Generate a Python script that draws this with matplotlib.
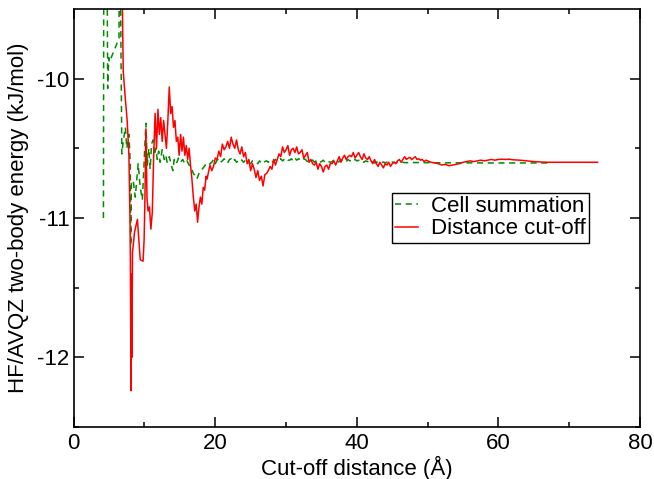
import matplotlib
matplotlib.use("Agg")
import matplotlib.pyplot as plt

plt.rcParams['font.family'] = ['Liberation Sans', 'DejaVu Sans']
plt.rcParams['axes.unicode_minus'] = False

# Cell summation (green, dashed)
green_x = [4.2, 4.25, 4.7, 4.8, 4.95, 5.05, 6.4, 6.45, 6.55, 6.8,
           7.0, 7.3, 7.5, 7.8, 8.0, 8.05, 8.15, 8.4, 8.7, 9.1,
           9.4, 9.7, 10.0, 10.2, 10.4, 10.6, 10.8, 11.0, 11.2, 11.4,
           11.6, 11.8, 12.0, 12.2, 12.5, 12.8, 13.0, 13.2, 13.5, 13.8,
           14.0, 14.2, 14.5, 14.8, 15.1, 15.4, 15.7, 16.0, 16.3, 16.6,
           16.9, 17.2, 17.4, 17.7, 18.0, 18.3, 18.6, 18.8,
           19.0, 19.25, 19.5, 19.75, 20.0, 20.25, 20.5, 20.75, 21.0, 21.25,
           21.5, 21.75, 22.0, 22.25, 22.5, 22.75, 23.0, 23.25, 23.5, 23.75,
           24.0, 24.25, 24.5, 24.75, 25.0, 25.25, 25.5, 25.75, 26.0, 26.25,
           26.5, 26.75, 27.0, 27.25, 27.5, 27.75, 28.0, 28.25, 28.5, 28.75,
           29.0, 29.25, 29.5, 29.75, 30.0, 30.25, 30.5, 30.75, 31.0, 31.25,
           31.5, 31.75, 32.0, 32.25, 32.5, 32.75, 33.0, 33.25, 33.5, 33.75,
           34.0, 34.25, 34.5, 34.75, 35.0, 35.25, 35.5, 35.75, 36.0, 36.25,
           36.5, 36.75, 37.0, 37.25, 37.5, 37.75, 38.0, 38.25, 38.5, 38.75,
           39.0, 39.25, 39.5, 39.75, 40.0, 40.25, 40.5, 40.75, 41.0, 41.25,
           41.5, 41.75, 42.0, 42.25, 42.5, 42.75, 43.0, 43.25, 43.5, 43.75,
           44.0, 44.25, 44.5, 44.75, 45.0, 45.25, 45.5, 45.75, 46.0, 46.25,
           47.0, 48.0, 50.0, 52.0, 55.0, 58.0, 62.0, 67.0]
green_y = [-11.0, -9.0, -9.0, -10.07, -9.85, -9.88, -9.71, -9.0, -9.0, -10.54,
           -10.45, -10.35, -10.50, -10.40, -10.62, -11.20, -10.75, -10.73, -10.85, -10.61,
           -10.78, -10.87, -10.55, -10.32, -10.62, -10.50, -10.65, -10.47, -10.44, -10.55,
           -10.50, -10.58, -10.52, -10.60, -10.51, -10.58, -10.55, -10.60, -10.56, -10.62,
           -10.66, -10.58, -10.61, -10.57, -10.60, -10.58, -10.61, -10.59, -10.62, -10.64,
           -10.68, -10.70, -10.72, -10.68, -10.66, -10.64, -10.62, -10.63,
           -10.62, -10.61, -10.60, -10.58, -10.61, -10.585, -10.575, -10.60, -10.59, -10.575,
           -10.60, -10.605, -10.58, -10.575, -10.595, -10.58, -10.60, -10.59, -10.575, -10.585,
           -10.60, -10.585, -10.59, -10.605, -10.61, -10.59, -10.595, -10.605, -10.61, -10.59,
           -10.605, -10.61, -10.595, -10.59, -10.60, -10.585, -10.60, -10.59, -10.58, -10.595,
           -10.585, -10.575, -10.59, -10.58, -10.57, -10.585, -10.585, -10.575, -10.59, -10.57,
           -10.585, -10.575, -10.58, -10.59, -10.575, -10.58, -10.595, -10.59, -10.58, -10.585,
           -10.60, -10.59, -10.585, -10.60, -10.595, -10.585, -10.60, -10.59, -10.595, -10.60,
           -10.595, -10.585, -10.59, -10.60, -10.595, -10.58, -10.59, -10.585, -10.595, -10.58,
           -10.59, -10.585, -10.595, -10.58, -10.59, -10.585, -10.595, -10.59, -10.60, -10.59,
           -10.595, -10.60, -10.59, -10.595, -10.605, -10.60, -10.595, -10.60, -10.605, -10.598,
           -10.605, -10.598, -10.601, -10.604, -10.599, -10.60, -10.604, -10.601, -10.603, -10.60,
           -10.603, -10.602, -10.603, -10.604, -10.604, -10.605, -10.605, -10.605]

# Distance cut-off (red, solid)
red_x = [6.75, 7.0, 7.3, 7.55, 7.8, 7.95, 8.0, 8.1, 8.15, 8.22,
         8.3, 8.6, 9.0, 9.4, 9.8, 9.95, 10.05, 10.2, 10.35, 10.5,
         10.7, 10.9, 11.1, 11.3, 11.5, 11.7, 11.9, 12.1, 12.3, 12.5,
         12.7, 12.9, 13.1, 13.3, 13.5, 13.7, 13.9, 14.1, 14.3, 14.5,
         14.7, 14.9, 15.1, 15.3, 15.5, 15.7, 15.9, 16.1, 16.3, 16.5,
         16.7, 16.9, 17.1, 17.3, 17.5, 17.7, 17.9, 18.1, 18.3, 18.5,
         18.7, 18.85,
         19.0, 19.25, 19.5, 19.75, 20.0, 20.25, 20.5, 20.75, 21.0, 21.25,
         21.5, 21.75, 22.0, 22.25, 22.5, 22.75, 23.0, 23.25, 23.5, 23.75,
         24.0, 24.25, 24.5, 24.75, 25.0, 25.25, 25.5, 25.75, 26.0, 26.25,
         26.5, 26.75, 27.0, 27.25, 27.5, 27.75, 28.0, 28.25, 28.5, 28.75,
         29.0, 29.25, 29.5, 29.75, 30.0, 30.25, 30.5, 30.75, 31.0, 31.25,
         31.5, 31.75, 32.0, 32.25, 32.5, 32.75, 33.0, 33.25, 33.5, 33.75,
         34.0, 34.25, 34.5, 34.75, 35.0, 35.25, 35.5, 35.75, 36.0, 36.25,
         36.5, 36.75, 37.0, 37.25, 37.5, 37.75, 38.0, 38.25, 38.5, 38.75,
         39.0, 39.25, 39.5, 39.75, 40.0, 40.25, 40.5, 40.75, 41.0, 41.25,
         41.5, 41.75, 42.0, 42.25, 42.5, 42.75, 43.0, 43.25, 43.5, 43.75,
         44.0, 44.25, 44.5, 44.75, 45.0, 45.25, 45.5, 45.75, 46.0, 46.25,
         46.5, 46.75, 47.0, 47.25, 47.5, 47.75, 48.0, 48.25, 48.5, 48.75,
         49.0, 49.25, 49.5, 49.75, 50.0,
         50.5, 51.0, 51.5, 52.0, 52.5, 53.0, 53.5, 54.0, 54.5, 55.0,
         55.5, 56.0, 56.5, 57.0, 57.5, 58.0, 58.5, 59.0, 59.5, 60.0,
         60.5, 61.0, 61.5, 62.0, 63.0, 64.0, 65.0, 66.0, 67.0, 70.0, 74.0]
red_y = [-9.0, -9.95, -10.15, -10.30, -10.55, -11.0, -11.25, -12.24, -11.40, -12.0,
         -11.25, -11.10, -11.01, -11.30, -11.31, -11.15, -10.90, -10.36, -10.85, -10.95,
         -10.92, -11.08, -10.96, -10.55, -10.25, -10.50, -10.22, -10.40, -10.28, -10.45,
         -10.30, -10.40, -10.50, -10.30, -10.06, -10.25, -10.20, -10.35, -10.30, -10.45,
         -10.42, -10.55, -10.40, -10.52, -10.42, -10.55, -10.48, -10.58, -10.50, -10.62,
         -10.72, -10.85, -10.95, -10.90, -11.03, -10.92, -10.85, -10.90, -10.78, -10.80,
         -10.70, -10.72,
         -10.68, -10.62, -10.66, -10.63, -10.57, -10.58, -10.52, -10.56, -10.47, -10.51,
         -10.49, -10.45, -10.50, -10.42, -10.47, -10.50, -10.44, -10.51, -10.54, -10.49,
         -10.56, -10.53, -10.61, -10.58, -10.66, -10.61, -10.65, -10.71, -10.66, -10.73,
         -10.70, -10.77, -10.69, -10.68, -10.66, -10.63, -10.65, -10.58, -10.62, -10.58,
         -10.54, -10.56, -10.49, -10.53, -10.51, -10.48, -10.55, -10.51, -10.50, -10.53,
         -10.49, -10.54, -10.53, -10.51, -10.57, -10.55, -10.53, -10.60, -10.58, -10.61,
         -10.62, -10.60, -10.65, -10.61, -10.63, -10.67, -10.63, -10.62, -10.65, -10.61,
         -10.61, -10.59, -10.62, -10.59, -10.56, -10.60, -10.57, -10.55, -10.58, -10.56,
         -10.55, -10.56, -10.53, -10.57, -10.55, -10.53, -10.56, -10.58, -10.54, -10.57,
         -10.58, -10.56, -10.59, -10.61, -10.58, -10.61, -10.63, -10.60, -10.62, -10.64,
         -10.61, -10.62, -10.60, -10.63, -10.61, -10.60, -10.61, -10.59, -10.58, -10.60,
         -10.58, -10.56, -10.58, -10.57, -10.565, -10.58, -10.57, -10.56, -10.58, -10.575,
         -10.585, -10.58, -10.595, -10.585, -10.59,
         -10.60, -10.605, -10.61, -10.62, -10.615, -10.625, -10.62, -10.615, -10.61, -10.60,
         -10.595, -10.59, -10.595, -10.59, -10.585, -10.59, -10.585, -10.58, -10.585, -10.58,
         -10.578, -10.58, -10.578, -10.582, -10.585, -10.59, -10.595, -10.598, -10.60, -10.60, -10.60]

xticks = [0, 20, 40, 60, 80]
yticks = [-12, -11, -10]

fig = plt.figure(figsize=(6.54, 4.79), dpi=100)
ax = fig.add_axes([0.1127, 0.1086, 0.8659, 0.8726])

ax.plot(green_x, green_y, color='#008c00', lw=1.1, dashes=(4, 3), label='Cell summation')
ax.plot(red_x, red_y, color='#ff0000', lw=1.1, label='Distance cut-off')

ax.set_xlim(0, 80)
ax.set_ylim(-12.5, -9.5)
ax.set_xticks(xticks)
ax.set_yticks(yticks)
ax.set_xticks([10, 30, 50, 70], minor=True)
ax.set_yticks([-12.5, -11.5, -10.5], minor=True)
ax.tick_params(which='both', direction='in', top=True, right=True, width=1.1, labelsize=16)
ax.tick_params(which='major', length=7)
ax.tick_params(which='minor', length=3.5)
ax.tick_params(axis='x', pad=4)
ax.tick_params(axis='y', pad=3)
for s in ax.spines.values():
    s.set_linewidth(1.2)

ax.set_xlabel('Cut-off distance (Å)', fontsize=16, labelpad=2)
ax.set_ylabel('HF/AVQZ two-body energy (kJ/mol)', fontsize=16, labelpad=6)

leg = ax.legend(loc='upper left', bbox_to_anchor=(0.562, 0.56), fontsize=16,
                frameon=True, fancybox=False, edgecolor='black', framealpha=1,
                handlelength=1.0, handletextpad=0.6, labelspacing=0.05,
                borderpad=0.15, borderaxespad=0)
leg.get_frame().set_linewidth(1.0)

fig.savefig('out.png', dpi=100)
